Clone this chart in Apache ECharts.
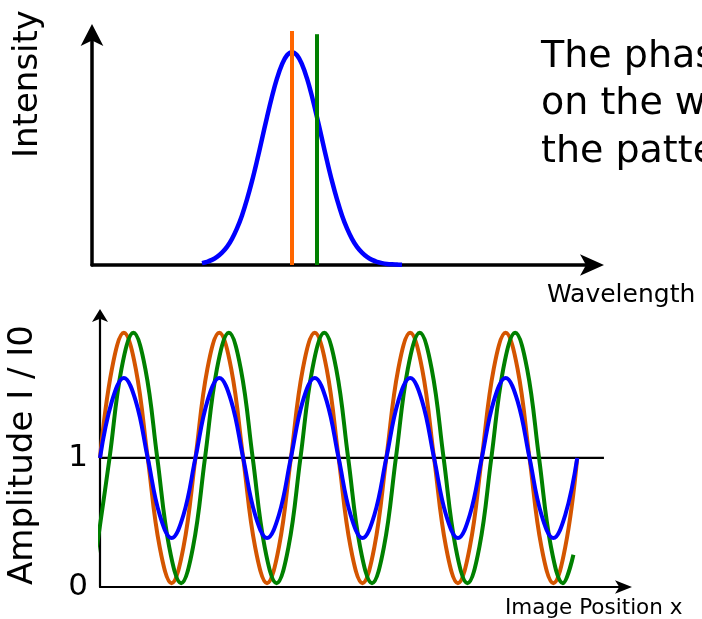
<!DOCTYPE html>
<html>
<head>
<meta charset="utf-8">
<script src="https://cdn.jsdelivr.net/npm/echarts@6/dist/echarts.min.js"></script>
<style>
  html, body { margin: 0; padding: 0; background: #ffffff; }
  #chart { width: 702px; height: 619px; }
</style>
</head>
<body>
<div id="chart"></div>
<script>
// Spectrum (upper panel): wavelength positions and relative intensity of the source
const gaussPos = [2.2, 2.3, 2.4, 2.5, 2.6, 2.7, 2.8, 2.9, 3.0, 3.1, 3.2, 3.3, 3.4, 3.5, 3.6, 3.7, 3.8, 3.9,
  4.0, 4.1, 4.2, 4.3, 4.4, 4.5, 4.6, 4.7, 4.8, 4.9, 5.0, 5.1, 5.2, 5.3, 5.4, 5.5, 5.6, 5.7, 5.8, 5.9, 6.0, 6.1, 6.2];
const gaussLevel = [0.009, 0.015, 0.024, 0.038, 0.058, 0.085, 0.123, 0.172, 0.233, 0.308, 0.394, 0.490, 0.592, 0.695, 0.792, 0.877, 0.943, 0.986,
  1.0, 0.986, 0.943, 0.877, 0.792, 0.695, 0.592, 0.490, 0.394, 0.308, 0.233, 0.172, 0.123, 0.085, 0.058, 0.038, 0.024, 0.015, 0.009, 0.005, 0.003, 0.002, 0.001];

// Two single wavelengths marked in the spectrum
const lineWavelengths = [4.0, 4.5];
const lineHeights = [1.1, 1.085];

// Fringe patterns (lower panel): image position in fringe periods, amplitude I / I0
const phasePos = [0, 0.125, 0.25, 0.375, 0.5, 0.625, 0.75, 0.875, 1, 1.125, 1.25, 1.375, 1.5, 1.625, 1.75, 1.875,
  2, 2.125, 2.25, 2.375, 2.5, 2.625, 2.75, 2.875, 3, 3.125, 3.25, 3.375, 3.5, 3.625, 3.75, 3.875,
  4, 4.125, 4.25, 4.375, 4.5, 4.625, 4.75, 4.875, 5];
const orangeLevel = [1, 1.69, 1.97, 1.69, 1, 0.31, 0.03, 0.31, 1, 1.69, 1.97, 1.69, 1, 0.31, 0.03, 0.31,
  1, 1.69, 1.97, 1.69, 1, 0.31, 0.03, 0.31, 1, 1.69, 1.97, 1.69, 1, 0.31, 0.03, 0.31,
  1, 1.69, 1.97, 1.69, 1, 0.31, 0.03, 0.31, 1];
const blueLevel = [1, 1.44, 1.62, 1.44, 1, 0.56, 0.38, 0.56, 1, 1.44, 1.62, 1.44, 1, 0.56, 0.38, 0.56,
  1, 1.44, 1.62, 1.44, 1, 0.56, 0.38, 0.56, 1, 1.44, 1.62, 1.44, 1, 0.56, 0.38, 0.56,
  1, 1.44, 1.62, 1.44, 1, 0.56, 0.38, 0.56, 1];
const greenPos = [-0.05, 0.1, 0.225, 0.35, 0.475, 0.6, 0.725, 0.85, 0.975, 1.1, 1.225, 1.35, 1.475, 1.6, 1.725, 1.85,
  1.975, 2.1, 2.225, 2.35, 2.475, 2.6, 2.725, 2.85, 2.975, 3.1, 3.225, 3.35, 3.475, 3.6, 3.725, 3.85,
  3.975, 4.1, 4.225, 4.35, 4.475, 4.6, 4.725, 4.85, 4.96];
const greenLevel = [0.22, 1, 1.69, 1.97, 1.69, 1, 0.31, 0.03, 0.31, 1, 1.69, 1.97, 1.69, 1, 0.31, 0.03, 0.31,
  1, 1.69, 1.97, 1.69, 1, 0.31, 0.03, 0.31, 1, 1.69, 1.97, 1.69, 1, 0.31, 0.03, 0.31,
  1, 1.69, 1.97, 1.69, 1, 0.31, 0.03, 0.25];

// Reference level I / I0 = 1 and the labelled amplitude ticks
const unityLevel = 1;
const unitySpan = [0, 5.28];
const amplitudeTicks = [0, 1];

const FONT = '"DejaVu Sans", "Liberation Sans", sans-serif';
const zip = (xs, ys) => xs.map((x, i) => [x, ys[i]]);

const chart = echarts.init(document.getElementById('chart'), null, { renderer: 'canvas' });

const plainAxis = (extra) => Object.assign({
  type: 'value',
  axisTick: { show: false },
  axisLabel: { show: false },
  splitLine: { show: false },
  axisPointer: { show: false }
}, extra);

chart.setOption({
  animation: false,
  backgroundColor: '#ffffff',
  grid: [
    { left: 92, top: 31, width: 500, height: 234, containLabel: false, outerBoundsMode: 'none' },
    { left: 100, top: 316, width: 524, height: 271, containLabel: false, outerBoundsMode: 'none' }
  ],
  xAxis: [
    plainAxis({
      gridIndex: 0, min: 0, max: 10,
      axisLine: { show: true, lineStyle: { color: '#000', width: 3.5 },
        symbol: ['none', 'arrow'], symbolSize: [16, 24], symbolOffset: [0, 12] }
    }),
    plainAxis({
      gridIndex: 1, min: 0, max: 5.49,
      axisLine: { show: true, lineStyle: { color: '#000', width: 2.2 },
        symbol: ['none', 'arrow'], symbolSize: [10, 17], symbolOffset: [0, 8] }
    })
  ],
  yAxis: [
    plainAxis({
      gridIndex: 0, min: 0, max: 1.1,
      axisLine: { show: true, lineStyle: { color: '#000', width: 3.5 },
        symbol: ['none', 'arrow'], symbolSize: [17, 22], symbolOffset: [0, 7] }
    }),
    plainAxis({
      gridIndex: 1, min: 0, max: 2.1, interval: 1,
      axisLine: { show: true, lineStyle: { color: '#000', width: 2.2 },
        symbol: ['none', 'arrow'], symbolSize: [12, 13], symbolOffset: [0, 7] },
      axisLabel: {
        show: true, margin: 12, color: '#000', fontSize: 31, fontFamily: FONT,
        showMinLabel: true, showMaxLabel: false,
        formatter: (v) => amplitudeTicks.indexOf(v) >= 0 ? String(v) : ''
      }
    })
  ],
  graphic: [
    { type: 'text', x: 28, y: 84, rotation: Math.PI / 2,
      style: { text: 'Intensity', font: '34px ' + FONT, fill: '#000', align: 'center', verticalAlign: 'middle' } },
    { type: 'text', x: 23, y: 455, rotation: Math.PI / 2,
      style: { text: 'Amplitude I / I0', font: '34px ' + FONT, fill: '#000', align: 'center', verticalAlign: 'middle' } },
    { type: 'text', x: 541, y: 33,
      style: { text: 'The phase shift depends\non the wavelength, so\nthe pattern washes out', font: '38px ' + FONT,
        lineHeight: 47.5, fill: '#000', align: 'left', verticalAlign: 'top' } },
    { type: 'text', x: 547, y: 295,
      style: { text: 'Wavelength', font: '25px ' + FONT, fill: '#000', align: 'left', verticalAlign: 'middle' } },
    { type: 'text', x: 505, y: 608.5,
      style: { text: 'Image Position x', font: '21.5px ' + FONT, fill: '#000', align: 'left', verticalAlign: 'middle' } }
  ],
  series: [
    {
      type: 'line', xAxisIndex: 0, yAxisIndex: 0, data: zip(gaussPos, gaussLevel),
      smooth: 0.4, showSymbol: false, symbol: 'none', silent: true, clip: false,
      lineStyle: { color: '#0000ff', width: 4.5 }
    },
    {
      type: 'line', xAxisIndex: 0, yAxisIndex: 0,
      data: [[lineWavelengths[0], 0], [lineWavelengths[0], lineHeights[0]]],
      showSymbol: false, symbol: 'none', silent: true, clip: false,
      lineStyle: { color: '#ff6600', width: 4 }
    },
    {
      type: 'line', xAxisIndex: 0, yAxisIndex: 0,
      data: [[lineWavelengths[1], 0], [lineWavelengths[1], lineHeights[1]]],
      showSymbol: false, symbol: 'none', silent: true, clip: false,
      lineStyle: { color: '#008000', width: 4 }
    },
    {
      type: 'line', xAxisIndex: 1, yAxisIndex: 1,
      data: [[unitySpan[0], unityLevel], [unitySpan[1], unityLevel]],
      showSymbol: false, symbol: 'none', silent: true, clip: false,
      lineStyle: { color: '#000', width: 2.2 }
    },
    {
      type: 'line', xAxisIndex: 1, yAxisIndex: 1, data: zip(phasePos, orangeLevel),
      smooth: 0.4, showSymbol: false, symbol: 'none', silent: true, clip: false,
      lineStyle: { color: '#d45500', width: 4 }
    },
    {
      type: 'line', xAxisIndex: 1, yAxisIndex: 1, data: zip(greenPos, greenLevel),
      smooth: 0.4, showSymbol: false, symbol: 'none', silent: true, clip: false,
      lineStyle: { color: '#008000', width: 4 }
    },
    {
      type: 'line', xAxisIndex: 1, yAxisIndex: 1, data: zip(phasePos, blueLevel),
      smooth: 0.4, showSymbol: false, symbol: 'none', silent: true, clip: false,
      lineStyle: { color: '#0000ff', width: 4 }
    }
  ]
});
</script>
</body>
</html>
